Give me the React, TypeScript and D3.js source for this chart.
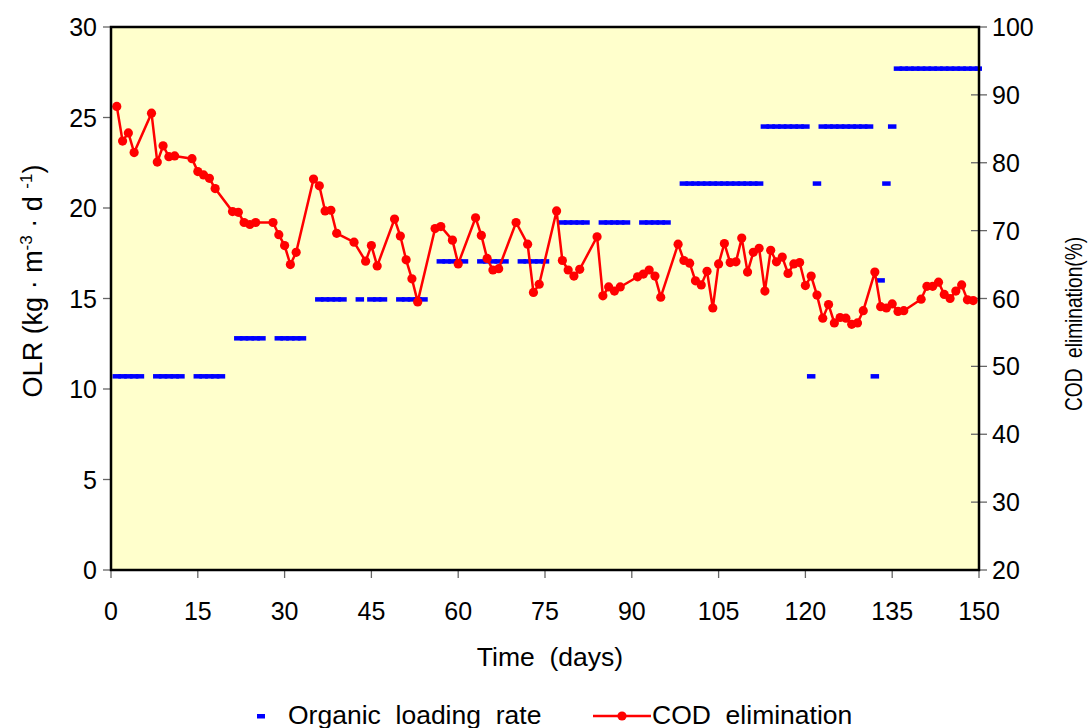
import React from "react";
import * as d3 from "d3";

const codDays = [
  1, 2, 3, 4, 7, 8, 9, 10, 11, 14, 15, 16, 17, 18, 21, 22, 23, 24, 25, 28, 29, 30, 31, 32,
  35, 36, 37, 38, 39, 42, 44, 45, 46, 49, 50, 51, 52, 53, 56, 57, 59, 60, 63, 64, 65, 66, 67,
  70, 72, 73, 74, 77, 78, 79, 80, 81, 84, 85, 86, 87, 88, 91, 92, 93, 94, 95,
  98, 99, 100, 101, 102, 103, 104, 105, 106, 107, 108, 109, 110, 111, 112, 113, 114, 115,
  116, 117, 118, 119, 120, 121, 122, 123, 124, 125, 126, 127, 128, 129, 130, 132, 133, 134,
  135, 136, 137, 140, 141, 142, 143, 144, 145, 146, 147, 148, 149,
];
const codValues = [
  88.3, 83.2, 84.4, 81.5, 87.3, 80.1, 82.5, 80.9, 81.0, 80.6, 78.7, 78.2, 77.7, 76.2, 72.8,
  72.7, 71.2, 70.9, 71.2, 71.2, 69.4, 67.8, 65.0, 66.8,
  77.6, 76.6, 72.9, 73.0, 69.6, 68.3, 65.5, 67.8, 64.8, 71.7, 69.2, 65.7, 62.9, 59.5, 70.3,
  70.6, 68.6, 65.1, 71.9, 69.3, 65.9, 64.2, 64.4,
  71.2, 68.0, 60.9, 62.1, 72.9, 65.6, 64.2, 63.3, 64.3, 69.1, 60.4, 61.7, 61.1, 61.7, 63.2,
  63.6, 64.2, 63.3, 60.2,
  68.0, 65.6, 65.2, 62.6, 62.0, 64.0, 58.6, 65.1, 68.1, 65.3, 65.4, 68.9, 63.9, 66.8, 67.4,
  61.1, 67.1, 65.4,
  66.1, 63.7, 65.1, 65.3, 61.9, 63.3, 60.5, 57.1, 59.1, 56.4, 57.2, 57.1, 56.2, 56.4, 58.2,
  63.9, 58.8, 58.6,
  59.2, 58.1, 58.2, 59.9, 61.8, 61.8, 62.4, 60.6, 60.0, 61.1, 62.0, 59.8, 59.7,
];

const olrDays = [
  1, 2, 3, 4, 5, 8, 9, 10, 11, 12, 15, 16, 17, 18, 19,
  22, 23, 24, 25, 26, 29, 30, 31, 32, 33,
  36, 37, 38, 39, 40, 43, 45, 46, 47, 50, 51, 52, 53, 54,
  57, 58, 59, 60, 61, 64, 65, 66, 67, 68, 71, 72, 73, 74, 75,
  78, 79, 80, 81, 82, 85, 86, 87, 88, 89, 92, 93, 94, 95, 96,
  99, 100, 101, 102, 103, 104, 105, 106, 107, 108, 109, 110, 111, 112,
  113, 114, 115, 116, 117, 118, 119, 120, 121, 122,
  123, 124, 125, 126, 127, 128, 129, 130, 131, 132, 133, 134, 135,
  136, 137, 138, 139, 140, 141, 142, 143, 144, 145, 146, 147, 148, 149, 150,
];
const olrValues = [
  10.7, 10.7, 10.7, 10.7, 10.7, 10.7, 10.7, 10.7, 10.7, 10.7, 10.7, 10.7, 10.7, 10.7, 10.7,
  12.8, 12.8, 12.8, 12.8, 12.8, 12.8, 12.8, 12.8, 12.8, 12.8,
  14.95, 14.95, 14.95, 14.95, 14.95, 14.95, 14.95, 14.95, 14.95, 14.95, 14.95, 14.95, 14.95, 14.95,
  17.05, 17.05, 17.05, 17.05, 17.05, 17.05, 17.05, 17.05, 17.05, 17.05, 17.05, 17.05, 17.05, 17.05, 17.05,
  19.2, 19.2, 19.2, 19.2, 19.2, 19.2, 19.2, 19.2, 19.2, 19.2, 19.2, 19.2, 19.2, 19.2, 19.2,
  21.35, 21.35, 21.35, 21.35, 21.35, 21.35, 21.35, 21.35, 21.35, 21.35, 21.35, 21.35, 21.35, 21.35,
  24.5, 24.5, 24.5, 24.5, 24.5, 24.5, 24.5, 24.5, 10.7, 21.35,
  24.5, 24.5, 24.5, 24.5, 24.5, 24.5, 24.5, 24.5, 24.5, 10.7, 16.0, 21.35, 24.5,
  27.7, 27.7, 27.7, 27.7, 27.7, 27.7, 27.7, 27.7, 27.7, 27.7, 27.7, 27.7, 27.7, 27.7, 27.7,
];

const xTicks = [0, 15, 30, 45, 60, 75, 90, 105, 120, 135, 150];
const leftTicks = [0, 5, 10, 15, 20, 25, 30];
const rightTicks = [20, 30, 40, 50, 60, 70, 80, 90, 100];

const W = 1091;
const H = 728;
const L = 111;
const R = 979;
const T = 27;
const B = 570;
const FONT = "'Liberation Sans', Arial, sans-serif";
const TICK_FS = 25;
const TITLE_FS = 26.5;

export default function App() {
  const x = d3.scaleLinear().domain([0, 150]).range([L, R]);
  const yL = d3.scaleLinear().domain([0, 30]).range([B, T]);
  const yR = d3.scaleLinear().domain([20, 100]).range([B, T]);
  const line = d3
    .line<number>()
    .x((_, i) => x(codDays[i]))
    .y((v) => yR(v));
  const dashW = 8.5;
  const dashH = 4.5;

  return (
    <svg
      width={W}
      height={H}
      style={{ position: "absolute", left: 0, top: 0, background: "#fff" }}
      fontFamily={FONT}
    >
      <defs>
        <clipPath id="plotclip">
          <rect x={L} y={T - 5} width={R - L + 3} height={B - T + 5} />
        </clipPath>
      </defs>
      <rect x={L} y={T} width={R - L} height={B - T} fill="#FFFFCC" />

      {leftTicks.map((t) => (
        <g key={"l" + t}>
          <line x1={L - 8} x2={L} y1={yL(t)} y2={yL(t)} stroke="#666" strokeWidth={1.3} />
          <text x={L - 14} y={yL(t)} dy="0.36em" textAnchor="end" fontSize={TICK_FS}>
            {t}
          </text>
        </g>
      ))}
      {rightTicks.map((t) => (
        <g key={"r" + t}>
          <line x1={R - 8} x2={R + 8} y1={yR(t)} y2={yR(t)} stroke="#666" strokeWidth={1.3} />
          <text x={R + 13} y={yR(t)} dy="0.36em" textAnchor="start" fontSize={TICK_FS}>
            {t}
          </text>
        </g>
      ))}
      {xTicks.map((t) => (
        <g key={"x" + t}>
          <line x1={x(t)} x2={x(t)} y1={B} y2={B + 8} stroke="#666" strokeWidth={1.3} />
          <text x={x(t)} y={620} textAnchor="middle" fontSize={TICK_FS}>
            {t}
          </text>
        </g>
      ))}

      <g clipPath="url(#plotclip)">
        {olrDays.map((d, i) => (
          <rect
            key={"o" + i}
            x={x(d) - dashW / 2}
            y={yL(olrValues[i]) - dashH / 2}
            width={dashW}
            height={dashH}
            fill="#0000FF"
          />
        ))}
        <path d={line(codValues) || ""} fill="none" stroke="#FF0000" strokeWidth={2.5} />
        {codValues.map((v, i) => (
          <circle key={"c" + i} cx={x(codDays[i])} cy={yR(v)} r={4.6} fill="#FF0000" />
        ))}
      </g>

      <rect x={L} y={T} width={R - L} height={B - T} fill="none" stroke="#000" strokeWidth={2.5} />

      <text transform="translate(42,281) rotate(-90)" textAnchor="middle" fontSize={27}>
        OLR (kg · m
        <tspan dy={-10} fontSize={17}>-3</tspan>
        <tspan dy={10}> · d </tspan>
        <tspan dy={-10} fontSize={17}>-1</tspan>
        <tspan dy={10}>)</tspan>
      </text>
      <text
        transform="translate(1082,324) rotate(-90)"
        textAnchor="middle"
        fontSize={24}
        textLength={174}
        lengthAdjust="spacingAndGlyphs"
        xmlSpace="preserve"
      >
        COD  elimination(%)
      </text>
      <text x={550} y={666} textAnchor="middle" fontSize={TITLE_FS} xmlSpace="preserve">
        Time  (days)
      </text>

      <rect x={257} y={714} width={8} height={4.5} fill="#0000FF" />
      <text x={288} y={724} fontSize={TITLE_FS} xmlSpace="preserve">
        Organic  loading  rate
      </text>
      <line x1={593} x2={651} y1={716} y2={716} stroke="#FF0000" strokeWidth={2.5} />
      <circle cx={622} cy={716} r={4.6} fill="#FF0000" />
      <text x={652} y={724} fontSize={TITLE_FS} xmlSpace="preserve">
        COD  elimination
      </text>
    </svg>
  );
}
